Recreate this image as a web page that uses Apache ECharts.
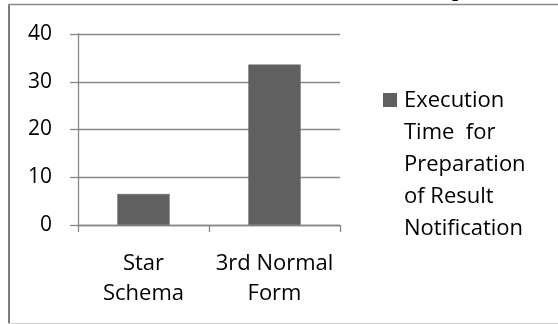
<!DOCTYPE html>
<html>
<head>
<meta charset="utf-8">
<script src="https://cdn.jsdelivr.net/npm/echarts@6/dist/echarts.min.js"></script>
<style>
  html, body { margin: 0; padding: 0; background: #ffffff; }
  #chart { width: 558px; height: 324px; }
</style>
</head>
<body>
<div id="chart"></div>
<script>
// Execution time for preparing the result notification, per schema design
const categories = ['Star\nSchema', '3rd Normal\nForm'];
const seriesName = 'Execution\nTime  for\nPreparation\nof Result\nNotification';
const executionTime = [6.5, 33.6];
const yTicks = { min: 0, max: 40, interval: 10 };

const FONT = '"Open Sans"';
const AXIS_GREY = '#878787';
const BAR_GREY = '#606060';

const chart = echarts.init(document.getElementById('chart'), null, { renderer: 'canvas' });

chart.setOption({
  animation: false,
  backgroundColor: '#ffffff',
  grid: { left: 78, top: 34, width: 262, height: 191, containLabel: false },
  xAxis: {
    type: 'category',
    data: categories,
    boundaryGap: true,
    axisLine: { show: true, lineStyle: { color: AXIS_GREY, width: 1.3 } },
    axisTick: { show: true, length: 7, alignWithLabel: false, lineStyle: { color: AXIS_GREY, width: 1.3 } },
    axisLabel: {
      interval: 0, hideOverlap: false,
      margin: 24, color: '#000000', fontFamily: FONT, fontSize: 22, lineHeight: 30
    },
    splitLine: { show: false }
  },
  yAxis: {
    type: 'value',
    min: yTicks.min, max: yTicks.max, interval: yTicks.interval,
    axisLine: { show: true, lineStyle: { color: AXIS_GREY, width: 1.3 } },
    axisTick: { show: true, length: 8, lineStyle: { color: AXIS_GREY, width: 1.3 } },
    axisLabel: { margin: 26, color: '#000000', fontFamily: FONT, fontSize: 21 },
    splitLine: { show: true, lineStyle: { color: AXIS_GREY, width: 1.3 } }
  },
  series: [{
    name: seriesName,
    type: 'bar',
    data: executionTime,
    barWidth: '40%',
    itemStyle: { color: BAR_GREY, borderColor: '#6e6e6e', borderWidth: 0.6 }
  }],
  graphic: [
    // frame around the chart area
    { type: 'line', shape: { x1: 9, y1: 4, x2: 9, y2: 324 }, style: { stroke: '#7c7c7c', lineWidth: 2 } },
    { type: 'line', shape: { x1: 8, y1: 4.5, x2: 558, y2: 4.5 }, style: { stroke: '#8a8a8a', lineWidth: 1.3 } },
    { type: 'line', shape: { x1: 8, y1: 323.5, x2: 558, y2: 323.5 }, style: { stroke: '#cfcfcf', lineWidth: 1 } },
    // descender of the heading text sitting above the frame
    { type: 'text', left: 452, top: -21, silent: true,
      style: { text: 'p', font: 'bold 22px "Liberation Serif"', fill: '#000000' } },
    // legend key and label
    { type: 'rect', shape: { x: 383, y: 93, width: 14, height: 14 }, style: { fill: BAR_GREY } },
    { type: 'text', left: 404, top: 85,
      style: { text: seriesName, font: '22px ' + FONT, fill: '#000000', lineHeight: 32 } }
  ]
});
</script>
</body>
</html>
